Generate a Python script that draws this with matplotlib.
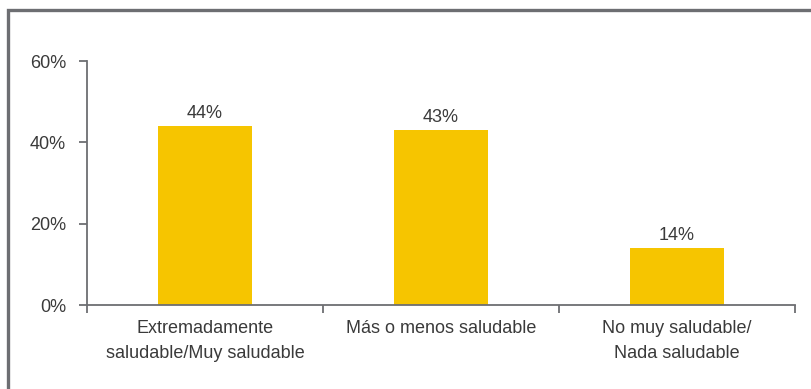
import matplotlib.pyplot as plt
from matplotlib.patches import Rectangle
from matplotlib.ticker import FixedLocator

categorias = ["Extremadamente\nsaludable/Muy saludable",
              "Más o menos saludable",
              "No muy saludable/\nNada saludable"]
porcentajes = [44, 43, 14]
ticks_y = [0, 20, 40, 60]

plt.rcParams["font.family"] = ["Liberation Sans", "DejaVu Sans"]
texto = "#3a3a3a"
gris = "#6d6e72"
fs = 13

fig = plt.figure(figsize=(8.11, 3.89), dpi=100)
ax = fig.add_axes([87 / 811, 84 / 389, 708 / 811, 244 / 389])

pos = list(range(len(categorias)))
ax.bar(pos, porcentajes, width=0.4, color="#f6c500")
for x, v in zip(pos, porcentajes):
    ax.text(x, v + 1.0, f"{v}%", ha="center", va="bottom", fontsize=fs, color=texto)

ax.set_xlim(-0.5, len(categorias) - 0.5)
ax.set_ylim(0, 60)
ax.set_yticks(ticks_y)
ax.set_yticklabels([f"{t}%" for t in ticks_y])

# ticks between categories, labels centred under bars
ax.xaxis.set_major_locator(FixedLocator([i - 0.5 for i in range(len(categorias) + 1)]))
ax.xaxis.set_major_formatter(plt.NullFormatter())
ax.xaxis.set_minor_locator(FixedLocator(pos))
ax.set_xticklabels(categorias, minor=True, linespacing=1.6)
ax.tick_params(axis="x", which="minor", length=0, pad=11, labelsize=fs, labelcolor=texto)
ax.tick_params(axis="x", which="major", length=6, width=1.3, color=gris)
ax.tick_params(axis="y", length=6, width=1.3, color=gris, pad=9, labelsize=fs, labelcolor=texto)

for s in ["top", "right"]:
    ax.spines[s].set_visible(False)
for s in ["left", "bottom"]:
    ax.spines[s].set_color(gris)
    ax.spines[s].set_linewidth(1.3)

# outer frame, runs off the right and bottom edges
fig.patches.append(Rectangle((8 / 811, -0.1), 1.0, (389 - 10) / 389 + 0.1,
                             transform=fig.transFigure, fill=False,
                             edgecolor=gris, linewidth=2.4))

fig.savefig("out.png", dpi=100)
